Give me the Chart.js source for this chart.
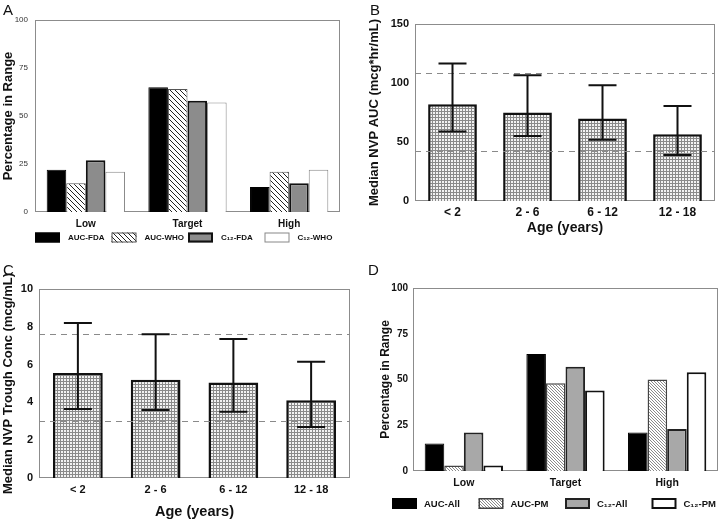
<!DOCTYPE html>
<html>
<head>
<meta charset="utf-8">
<script src="https://cdn.jsdelivr.net/npm/chart.js@4.4.0/dist/chart.umd.min.js"></script>
<style>
  html, body { margin: 0; padding: 0; background: #fff; }
  body { width: 719px; height: 519px; position: relative; overflow: hidden; }
  canvas { position: absolute; }
</style>
</head>
<body>
<canvas id="chartA" width="360" height="255" style="left:0;top:0"></canvas>
<canvas id="chartB" width="359" height="255" style="left:360px;top:0"></canvas>
<canvas id="chartC" width="360" height="264" style="left:0;top:255px"></canvas>
<canvas id="chartD" width="359" height="264" style="left:360px;top:255px"></canvas>
<script>
// panel A / D: percentage in range
const rangeLabels = ["Low", "Target", "High"];
const percentTicks = [0, 25, 50, 75, 100];
const aucFda = [22, 65, 13];
const aucWho = [15, 64, 21];
const c12Fda = [27, 58, 15];
const c12Who = [21, 57, 22];
const aucAll = [15, 64, 21];
const aucPm = [3, 48, 50];
const c12All = [21, 57, 23];
const c12Pm = [3, 44, 54];

// panel B / C: by age group
const ageLabels = ["< 2", "2 - 6", "6 - 12", "12 - 18"];
const aucTicks = [0, 50, 100, 150];
const aucMedian = [82, 75, 70, 56.5];
const aucLower = [59, 55, 52, 39];
const aucUpper = [116.5, 106.5, 98, 80.5];
const aucTargetLines = [42, 108.5];
const troughTicks = [0, 2, 4, 6, 8, 10];
const troughMedian = [5.55, 5.2, 5.05, 4.12];
const troughLower = [3.65, 3.6, 3.5, 2.7];
const troughUpper = [8.2, 7.6, 7.35, 6.15];
const troughTargetLines = [3.0, 7.62];

const FONT = "'Liberation Sans', Arial, sans-serif";
Chart.defaults.font.family = FONT;
Chart.defaults.color = "#111";

function hatch(size, color, width) {
  const c = document.createElement("canvas");
  c.width = size; c.height = size;
  const g = c.getContext("2d");
  g.fillStyle = "#fff";
  g.fillRect(0, 0, size, size);
  g.strokeStyle = color;
  g.lineWidth = width;
  g.beginPath();
  for (let k = -1; k <= 1; k++) {
    g.moveTo(-1, -1 + k * size);
    g.lineTo(size + 1, size + 1 + k * size);
  }
  g.stroke();
  return g.createPattern(c, "repeat");
}

function mesh() {
  const c = document.createElement("canvas");
  c.width = 3; c.height = 3;
  const g = c.getContext("2d");
  g.fillStyle = "#8a8a8a";
  g.fillRect(0, 0, 3, 3);
  g.fillStyle = "#f2f2f2";
  g.fillRect(1, 1, 2, 2);
  return g.createPattern(c, "repeat");
}

// frame, letter, legend, dashed reference lines and error bars
function decor(o) {
  return {
    id: "decor" + o.letter,
    beforeDatasetsDraw(chart) {
      const { ctx, chartArea: a } = chart;
      ctx.save();
      ctx.strokeStyle = "#8c8c8c";
      ctx.lineWidth = 1;
      ctx.strokeRect(a.left + 0.5, a.top + 0.5, a.right - a.left - 1, a.bottom - a.top - 1);
      ctx.restore();
    },
    afterDatasetsDraw(chart) {
      const { ctx, chartArea: a } = chart;
      const y = chart.scales.y;
      ctx.save();
      if (o.refLines) {
        ctx.strokeStyle = "#8a8a8a";
        ctx.lineWidth = 1;
        ctx.setLineDash([6, 5]);
        o.refLines.forEach(v => {
          const py = Math.round(y.getPixelForValue(v)) + 0.5;
          ctx.beginPath();
          ctx.moveTo(a.left, py);
          ctx.lineTo(a.right, py);
          ctx.stroke();
        });
        ctx.setLineDash([]);
      }
      if (o.lower) {
        ctx.strokeStyle = "#111";
        ctx.lineWidth = 2;
        chart.getDatasetMeta(0).data.forEach((bar, i) => {
          const lo = y.getPixelForValue(o.lower[i]);
          const hi = y.getPixelForValue(o.upper[i]);
          ctx.beginPath();
          ctx.moveTo(bar.x, lo); ctx.lineTo(bar.x, hi);
          ctx.moveTo(bar.x - 14, lo); ctx.lineTo(bar.x + 14, lo);
          ctx.moveTo(bar.x - 14, hi); ctx.lineTo(bar.x + 14, hi);
          ctx.stroke();
        });
      }
      ctx.restore();
    },
    afterDraw(chart) {
      const ctx = chart.ctx;
      ctx.save();
      ctx.fillStyle = "#111";
      ctx.font = "15px " + FONT;
      ctx.textBaseline = "top";
      ctx.fillText(o.letter, o.lx, o.ly);
      const lg = o.legend;
      if (lg) {
        ctx.font = "bold " + lg.size + "px " + FONT;
        ctx.textBaseline = "middle";
        chart.data.datasets.forEach((ds, i) => {
          const x = lg.x + i * lg.step;
          ctx.fillStyle = ds.backgroundColor;
          ctx.fillRect(x, lg.y - lg.h / 2, 25, lg.h);
          ctx.strokeStyle = ds.borderColor;
          ctx.lineWidth = ds.borderWidth;
          ctx.strokeRect(x + ds.borderWidth / 2, lg.y - lg.h / 2 + ds.borderWidth / 2, 25 - ds.borderWidth, lg.h - ds.borderWidth);
          ctx.fillStyle = "#111";
          ctx.fillText(ds.label, x + 25 + lg.gapText, lg.y + 0.5);
        });
      }
      ctx.restore();
    }
  };
}

function makeChart(id, g, data, opt) {
  return new Chart(document.getElementById(id), {
    type: "bar",
    data: data,
    options: {
      responsive: false,
      animation: false,
      events: [],
      layout: { padding: { left: 0, top: g.top, right: g.w - g.right, bottom: g.padBottom || 0 } },
      datasets: { bar: { categoryPercentage: opt.catPct, barPercentage: opt.barPct } },
      plugins: { legend: { display: false }, tooltip: { enabled: false } },
      scales: {
        x: {
          grid: { display: false, drawTicks: false },
          border: { display: false },
          ticks: { font: { size: opt.xSize, weight: "bold" }, color: "#111", padding: opt.xPad },
          title: opt.xTitle ? {
            display: true, text: opt.xTitle, color: "#111",
            font: { size: opt.xTitleSize, weight: "bold" }, padding: { top: 0, bottom: opt.xTitlePad }
          } : { display: false },
          afterFit(s) { s.height = g.h - (g.padBottom || 0) - g.bottom; }
        },
        y: {
          min: 0,
          max: opt.ticks[opt.ticks.length - 1],
          grid: { display: false, drawTicks: false },
          border: { display: false },
          afterBuildTicks(s) { s.ticks = opt.ticks.map(v => ({ value: v })); },
          ticks: {
            font: { size: opt.ySize, weight: opt.yWeight },
            color: opt.yColor || "#111",
            padding: opt.yPad
          },
          title: {
            display: true, text: opt.yTitle, color: "#111",
            font: { size: opt.yTitleSize, weight: "bold" },
            padding: { top: opt.yTitlePad, bottom: 0 }
          },
          afterFit(s) { s.width = g.left; }
        }
      }
    },
    plugins: [opt.decor]
  });
}

const hatchA = hatch(5, "#222", 1);
const hatchD = hatch(3, "#8a8a8a", 1);

makeChart("chartA", { w: 360, h: 255, left: 35, top: 20, right: 340, bottom: 212, padBottom: 25 }, {
  labels: rangeLabels,
  datasets: [
    { label: "AUC-FDA", data: aucFda, backgroundColor: "#000", borderColor: "#000", borderWidth: 1 },
    { label: "AUC-WHO", data: aucWho, backgroundColor: hatchA, borderColor: "#555", borderWidth: 1 },
    { label: "C\u2081\u2082-FDA", data: c12Fda, backgroundColor: "#8c8c8c", borderColor: "#111", borderWidth: 2 },
    { label: "C\u2081\u2082-WHO", data: c12Who, backgroundColor: "#fff", borderColor: "#888", borderWidth: 1 }
  ]
}, {
  catPct: 0.77, barPct: 1, ticks: percentTicks,
  xSize: 10, xPad: 6, ySize: 8, yWeight: "normal", yColor: "#333", yPad: 7,
  yTitle: "Percentage in Range", yTitleSize: 13,  yTitlePad: 1,
  decor: decor({ letter: "A", lx: 3, ly: 3, legend: { x: 35, step: 76.5, y: 237.5, h: 10, gapText: 8, size: 8 } })
});

makeChart("chartB", { w: 359, h: 255, left: 55, top: 24, right: 355, bottom: 201 }, {
  labels: ageLabels,
  datasets: [
    { label: "AUC", data: aucMedian, backgroundColor: mesh(), borderColor: "#111", borderWidth: 2.5 }
  ]
}, {
  catPct: 1, barPct: 0.65, ticks: aucTicks,
  xSize: 12, xPad: 4, xTitle: "Age (years)", xTitleSize: 14, xTitlePad: 18,
  ySize: 11, yWeight: "bold", yPad: 6,
  yTitle: "Median NVP AUC (mcg*hr/mL)", yTitleSize: 13, yTitlePad: 7,
  decor: decor({ letter: "B", lx: 10, ly: 3, refLines: aucTargetLines, lower: aucLower, upper: aucUpper })
});

makeChart("chartC", { w: 360, h: 264, left: 39, top: 34, right: 350, bottom: 223 }, {
  labels: ageLabels,
  datasets: [
    { label: "Trough", data: troughMedian, backgroundColor: mesh(), borderColor: "#111", borderWidth: 2.5 }
  ]
}, {
  catPct: 1, barPct: 0.64, ticks: troughTicks,
  xSize: 11, xPad: 5, xTitle: "Age (years)", xTitleSize: 14.5, xTitlePad: -2,
  ySize: 11, yWeight: "bold", yPad: 6,
  yTitle: "Median NVP Trough Conc (mcg/mL)", yTitleSize: 13, yTitlePad: 1,
  decor: decor({ letter: "C", lx: 3, ly: 8, refLines: troughTargetLines, lower: troughLower, upper: troughUpper })
});

makeChart("chartD", { w: 359, h: 264, left: 53, top: 33, right: 358, bottom: 216, padBottom: 26 }, {
  labels: rangeLabels,
  datasets: [
    { label: "AUC-All", data: aucAll, backgroundColor: "#000", borderColor: "#000", borderWidth: 1 },
    { label: "AUC-PM", data: aucPm, backgroundColor: hatchD, borderColor: "#444", borderWidth: 1.5 },
    { label: "C\u2081\u2082-All", data: c12All, backgroundColor: "#a8a8a8", borderColor: "#222", borderWidth: 2 },
    { label: "C\u2081\u2082-PM", data: c12Pm, backgroundColor: "#fff", borderColor: "#111", borderWidth: 2 }
  ]
}, {
  catPct: 0.77, barPct: 1, ticks: percentTicks,
  xSize: 10.5, xPad: 6, ySize: 10, yWeight: "bold", yPad: 5,
  yTitle: "Percentage in Range", yTitleSize: 12, yTitlePad: 18,
  decor: decor({ letter: "D", lx: 8, ly: 8, legend: { x: 32, step: 86.5, y: 248.5, h: 11, gapText: 7, size: 9.5 } })
});
</script>
</body>
</html>
